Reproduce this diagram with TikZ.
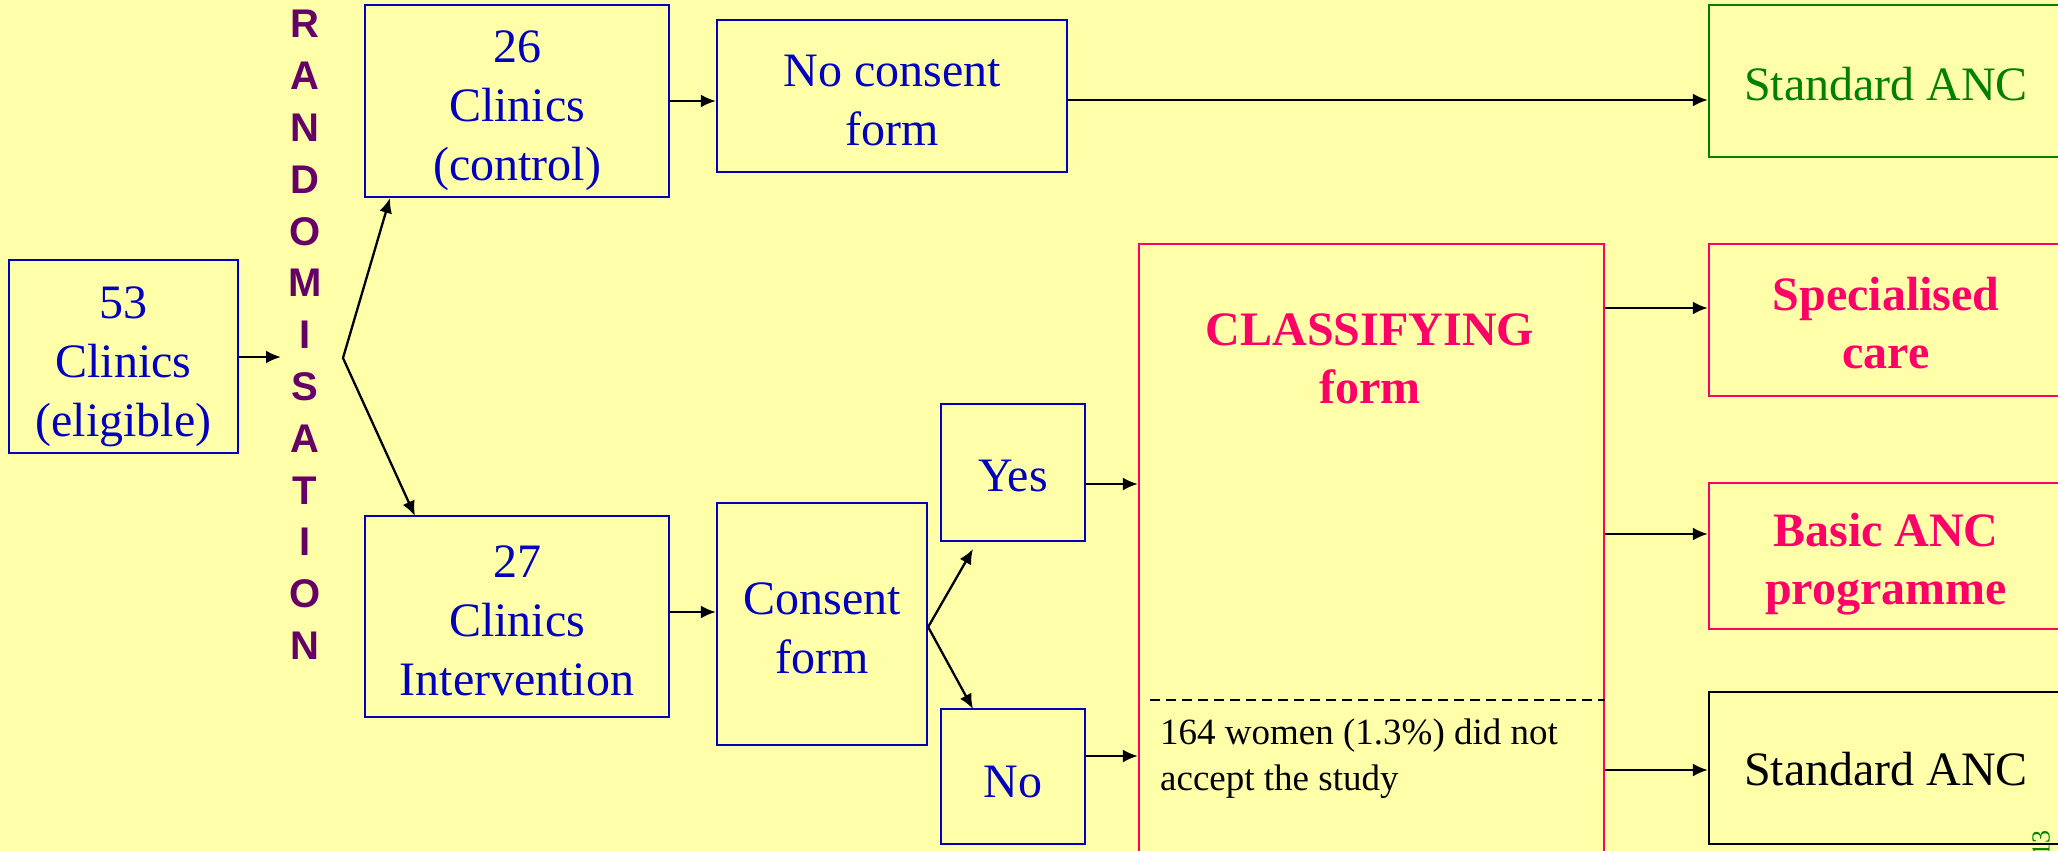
\documentclass[tikz,border=0pt]{standalone}
\usepackage{fontspec}
\setmainfont{Liberation Serif}
\setsansfont{Liberation Sans}
\usetikzlibrary{arrows.meta,calc}
\definecolor{bgyellow}{RGB}{255,255,170}
\definecolor{dblue}{RGB}{0,0,190}
\definecolor{hpink}{RGB}{255,0,102}
\definecolor{dgreen}{RGB}{0,128,0}
\definecolor{dpurple}{RGB}{102,0,102}
\begin{document}
\begin{tikzpicture}[x=1pt,y=-1pt,
 box/.style={draw, line width=2.3pt, inner sep=0pt},
 bluebox/.style={box, draw=dblue},
 pinkbox/.style={box, draw=hpink},
 txt/.style={inner sep=0pt, align=center, font=\fontsize{48}{59}\selectfont},
 bluetxt/.style={txt, text=dblue},
 pinktxt/.style={txt, text=hpink, font=\fontsize{48}{58}\selectfont\bfseries},
 ln/.style={line width=2.3pt},
 arr/.style={ln, -{Latex[length=15pt,width=13pt]}},
 darr/.style={ln, {Latex[length=15pt,width=13pt]}-{Latex[length=15pt,width=13pt]}}]
\useasboundingbox (0,0) rectangle (2058,851);
\clip (0,0) rectangle (2058,851);
\fill[bgyellow] (0,0) rectangle (2058,851);

% boxes
\node[bluebox, minimum width=229pt, minimum height=193pt] (b53) at (123.5,356.5) {};
\node[bluetxt] (t53) at ($(b53)+(0,10)$) {53\\Clinics\\(eligible)};
\node[bluebox, minimum width=304pt, minimum height=192pt] (b26) at (517,101) {};
\node[bluetxt] (t26x) at ($(b26)+(0,10)$) {26\\Clinics\\(control)};
\node[bluebox, minimum width=350pt, minimum height=152pt] (bnc) at (892,96) {};
\node[bluetxt] (tnc) at ($(bnc)+(0,5)$) {No consent\\form};
\node[box, draw=dgreen, minimum width=354pt, minimum height=152pt] (bstd1) at (1886,81) {};
\node[txt, text=dgreen] (tstd1) at ($(bstd1)+(0,3)$) {Standard ANC};
\node[pinkbox, minimum width=465pt, minimum height=616pt] (bcls) at (1371.5,552) {};
\node[pinktxt] (tcls) at (1370,359) {CLASSIFYING\\form};
\node[pinkbox, minimum width=354pt, minimum height=152pt] (bspec) at (1886,320) {};
\node[pinktxt] (tspec) at ($(bspec)+(0,3)$) {Specialised\\care};
\node[pinkbox, minimum width=354pt, minimum height=146pt] (bbasic) at (1886,556) {};
\node[pinktxt] (tbasic) at ($(bbasic)+(0,8)$) {Basic ANC\\programme};
\node[box, draw=black, minimum width=354pt, minimum height=152pt] (bstd2) at (1886,768) {};
\node[txt, text=black] (tstd2) at ($(bstd2)+(0,1)$) {Standard ANC};
\node[bluebox, minimum width=304pt, minimum height=201pt] (b27) at (517,616.5) {};
\node[bluetxt] (t27x) at ($(b27)+(0,4)$) {27\\Clinics\\Intervention};
\node[bluebox, minimum width=210pt, minimum height=242pt] (bcons) at (822,624) {};
\node[bluetxt] (tcons) at ($(bcons)+(0,4)$) {Consent\\form};
\node[bluebox, minimum width=144pt, minimum height=137pt] (byes) at (1013,472.5) {};
\node[bluetxt] (tyes) at ($(byes)+(0,4)$) {Yes};
\node[bluebox, minimum width=144pt, minimum height=135pt] (bno) at (1013,776.5) {};
\node[bluetxt] (tno) at ($(bno)+(0,6)$) {No};

\node[font=\fontsize{37}{46}\selectfont, align=left, anchor=north west, inner sep=0pt] (tnote) at (1160,719) {164 women (1.3\%) did not\\accept the study};
\coordinate (d1) at (1150,700);
\draw[line width=2pt, dash pattern=on 10pt off 6pt] (d1) -- (bcls.east |- d1);

\node[text=dpurple, font=\sffamily\bfseries\fontsize{40}{51.8}\selectfont, align=center, inner sep=0pt] (rand) at (305,335) {R\\A\\N\\D\\O\\M\\I\\S\\A\\T\\I\\O\\N};

\node[rotate=90, anchor=east, text=dgreen, font=\fontsize{26}{26}\selectfont, inner sep=0pt] (pg) at (2041,830) {13};

% connectors
\coordinate (rin) at (281,357);
\coordinate (f1) at (343,358);
\coordinate (t26) at (390,198);
\coordinate (t27) at (415,516);
\draw[arr] (b53.east |- rin) -- (rin);
\draw[darr] (t26) -- (f1) -- (t27);

\draw[arr] (b26.east) -- (bnc.west |- b26.east);
\coordinate (y1) at (0,100);
\draw[arr] (bnc.east |- y1) -- (bstd1.west |- y1);
\coordinate (y2) at (0,612);
\draw[arr] (b27.east |- y2) -- (bcons.west |- y2);

\coordinate (y3) at (0,627);
\coordinate (f2) at (bcons.east |- y3);
\coordinate (ty) at (973,549);
\coordinate (tn) at (973,709);
\draw[darr] (ty) -- (f2) -- (tn);

\coordinate (y4) at (0,484);
\draw[arr] (byes.east |- y4) -- (bcls.west |- y4);
\coordinate (y5) at (0,756);
\draw[arr] (bno.east |- y5) -- (bcls.west |- y5);
\coordinate (y6) at (0,308);
\draw[arr] (bcls.east |- y6) -- (bspec.west |- y6);
\coordinate (y7) at (0,534);
\draw[arr] (bcls.east |- y7) -- (bbasic.west |- y7);
\coordinate (y8) at (0,770);
\draw[arr] (bcls.east |- y8) -- (bstd2.west |- y8);
\end{tikzpicture}
\end{document}
